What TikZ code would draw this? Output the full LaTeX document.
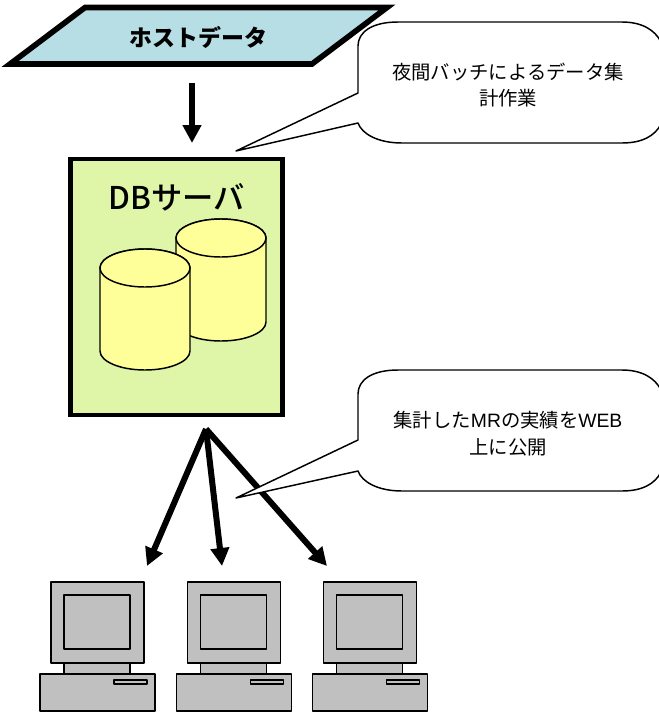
\documentclass[tikz,border=0pt]{standalone}
\usepackage{fontspec}
\setmainfont{Liberation Sans}
\newfontfamily\jpfont{Noto Sans CJK JP}
\newfontfamily\jpheavy{Noto Sans CJK JP Medium}
\usetikzlibrary{arrows.meta}
\definecolor{hostblue}{RGB}{183,221,229}
\definecolor{serverlime}{RGB}{223,246,168}
\definecolor{dbyellow}{RGB}{255,255,153}
\definecolor{pcgray}{RGB}{192,192,192}
\tikzset{
  bigarrow/.style={line width=4.5pt,-{Triangle[length=13.5pt,width=13.5pt]}},
  dbpart/.style={draw=black,fill=dbyellow,line width=1.1pt},
  pcpart/.style={draw=black,fill=pcgray,line width=1.1pt,line join=round},
  balloon/.style={draw=black,fill=white,line width=1.1pt,line join=round},
  note/.style={align=center,font=\fontsize{14.5}{20}\selectfont}
}
\begin{document}
\begin{tikzpicture}[x=0.75pt,y=0.75pt]
\tikzstyle{every node}+=[inner sep=0pt]
\useasboundingbox (0,0) rectangle (659,-715);
\draw [black,fill=hostblue,line width=4.2pt,miter limit=10] (85,-7.5) -- (387,-7.5) -- (312,-64) -- (10,-64) -- cycle;
\node (host) at (198.5,-37) {\fontsize{17.2}{20}\selectfont\jpfont\bfseries ホストデータ};
\node (server) [draw=black,fill=serverlime,line width=3.4pt,minimum width=159pt,minimum height=192pt] at (176.25,-287) {};
\node (servername) at (176.5,-197) {\fontsize{23.5}{24}\selectfont\jpheavy DBサーバ};
\coordinate (hostout) at (192,-83);
\coordinate (serverin) at (192,-143);
\draw [bigarrow] (hostout) -- (serverin);
\draw [dbpart] (176,-238) -- (176,-322) arc (180:360:45 and 19) -- (266,-238) arc (0:180:45 and 19) -- cycle;
\draw [dbpart] (221,-238) ellipse (45 and 19);
\draw [dbpart] (100,-268) -- (100,-351) arc (180:360:45 and 19) -- (190,-268) arc (0:180:45 and 19) -- cycle;
\draw [dbpart] (145,-268) ellipse (45 and 19);
\coordinate (fan) at (206,-429);
\coordinate (pcina) at (147,-566);
\coordinate (pcinb) at (222,-566);
\coordinate (pcinc) at (327,-566);
\draw [bigarrow] (fan) -- (pcina);
\draw [bigarrow] (fan) -- (pcinb);
\draw [bigarrow] (fan) -- (pcinc);
\coordinate (tailup) at (236,-151);
\coordinate (taildown) at (236,-498);
\draw [balloon] (tailup) -- (358,-93) -- (358,-46) .. controls (358,-32) and (372,-22) .. (398,-22) -- (622,-22) .. controls (642,-22) and (655,-30) .. (661,-42) -- (661,-124) .. controls (655,-136) and (642,-143) .. (622,-143) -- (402,-143) .. controls (378,-143) and (362,-134) .. (358,-123) -- cycle;
\node (noteup) [note] at (508,-85) {\jpfont 夜間バッチによるデータ集\\\jpfont 計作業};
\draw [balloon] (taildown) -- (358,-440) -- (358,-394) .. controls (358,-380) and (372,-370) .. (398,-370) -- (622,-370) .. controls (642,-370) and (655,-378) .. (661,-390) -- (661,-472) .. controls (655,-484) and (642,-491) .. (622,-491) -- (402,-491) .. controls (378,-491) and (362,-482) .. (358,-471) -- cycle;
\node (notedown) [note] at (508,-433.5) {{\jpfont 集計した}MR{\jpfont の実績を}WEB\\\jpfont 上に公開};
\draw [pcpart] (64,-663) rectangle (130,-674);
\draw [pcpart] (51,-582) rectangle (144,-663);
\draw [pcpart] (64,-595) rectangle (130,-649);
\draw [pcpart] (40,-674) rectangle (155,-711);
\draw [pcpart] (114,-680) rectangle (147,-684);
\draw [pcpart] (200.5,-663) rectangle (266.5,-674);
\draw [pcpart] (187.5,-582) rectangle (280.5,-663);
\draw [pcpart] (200.5,-595) rectangle (266.5,-649);
\draw [pcpart] (176.5,-674) rectangle (291.5,-711);
\draw [pcpart] (250.5,-680) rectangle (283.5,-684);
\draw [pcpart] (336.7,-663) rectangle (402.7,-674);
\draw [pcpart] (323.7,-582) rectangle (416.7,-663);
\draw [pcpart] (336.7,-595) rectangle (402.7,-649);
\draw [pcpart] (312.7,-674) rectangle (427.7,-711);
\draw [pcpart] (386.7,-680) rectangle (419.7,-684);
\end{tikzpicture}
\end{document}
